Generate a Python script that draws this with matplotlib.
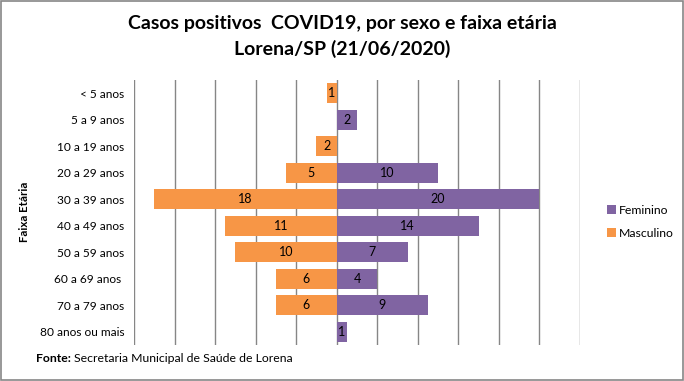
import numpy as np
import matplotlib
matplotlib.use("Agg")
import matplotlib.pyplot as plt
from matplotlib.patches import Rectangle

plt.rcParams["font.family"] = ["Lato", "DejaVu Sans"]

faixas = ["< 5 anos", "5 a 9 anos", "10 a 19 anos", "20 a 29 anos", "30 a 39 anos",
          "40 a 49 anos", "50 a 59 anos", "60 a 69 anos ", "70 a 79 anos", "80 anos ou mais"]
masculino = [1, 0, 2, 5, 18, 11, 10, 6, 6, 0]
feminino = [0, 2, 0, 10, 20, 14, 7, 4, 9, 1]

COR_F = "#8064A2"
COR_M = "#F79646"

fig = plt.figure(figsize=(6.84, 3.81), dpi=100)
ax = fig.add_axes([134 / 684, 1 - 345 / 381, (580 - 134) / 684, (345 - 80) / 381])

y = np.arange(len(faixas))
bf = ax.barh(y, feminino, height=0.75, color=COR_F, label="Feminino", zorder=2)
bm = ax.barh(y, [-v for v in masculino], height=0.75, color=COR_M, label="Masculino", zorder=2)

for yi, v in zip(y, feminino):
    if v:
        ax.text(v / 2, yi, str(v), ha="center", va="center", fontsize=9, color="black", zorder=3)
for yi, v in zip(y, masculino):
    if v:
        ax.text(-v / 2, yi, str(v), ha="center", va="center", fontsize=9, color="black", zorder=3)

ax.set_xlim(-20, 24)
ax.set_ylim(len(faixas) - 0.5, -0.5)
ax.set_xticks(np.arange(-20, 25, 4))
ax.xaxis.grid(True, color="#868686", linewidth=1, zorder=0)
ax.tick_params(axis="x", length=0, labelbottom=False)
ax.tick_params(axis="y", length=0, labelsize=8.6, pad=7)
ax.set_yticks(y)
ax.set_yticklabels(faixas)
for s in ax.spines.values():
    s.set_visible(False)

fig.text(25 / 684, 1 - 212 / 381, "Faixa Etária", rotation=90, ha="center", va="center",
         fontsize=8.3, fontweight="bold")

fig.text(0.5, 1 - 24 / 381, "Casos positivos  COVID19, por sexo e faixa etária", ha="center", va="center",
         fontsize=14, fontweight="bold")
fig.text(0.5, 1 - 49 / 381, "Lorena/SP (21/06/2020)", ha="center", va="center",
         fontsize=14, fontweight="bold")

fig.text(36 / 684, 1 - 358 / 381, "Fonte:", ha="left", va="center", fontsize=8.8, fontweight="bold")
fig.text(74 / 684, 1 - 358 / 381, "Secretaria Municipal de Saúde de Lorena", ha="left", va="center", fontsize=8.8)

fig.legend([bf, bm], ["Feminino", "Masculino"], loc="center left",
           bbox_to_anchor=(596 / 684, 1 - 222 / 381), frameon=False, fontsize=8.8,
           handlelength=0.75, handleheight=0.75, handletextpad=0.25, labelspacing=1.0)

fig.patches.append(Rectangle((0.001, 0.002), 0.997, 0.995, transform=fig.transFigure,
                             fill=False, edgecolor="#868686", linewidth=1.2))

fig.savefig("out.png", dpi=100)
